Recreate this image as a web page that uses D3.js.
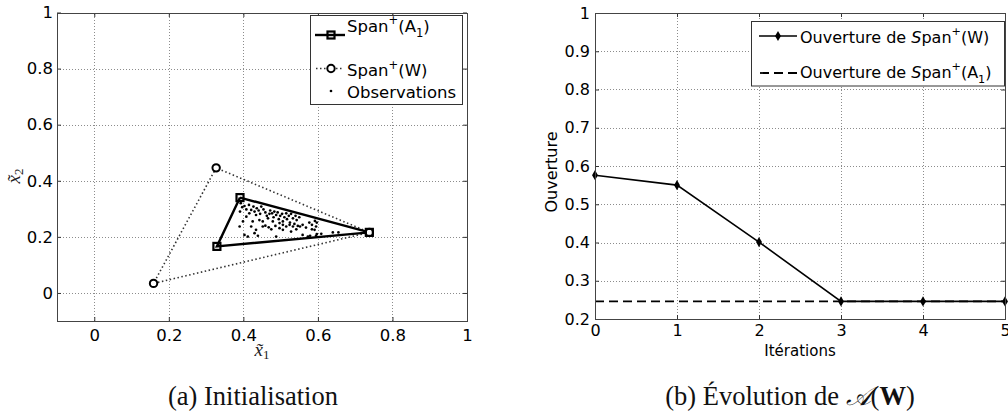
<!DOCTYPE html>
<html>
<head>
<meta charset="utf-8">
<script src="https://cdn.jsdelivr.net/npm/d3@7"></script>
<style>
  html, body { margin: 0; padding: 0; background: #fff; }
  svg { display: block; }
</style>
</head>
<body>
<svg id="fig" width="1008" height="414"></svg>
<script>
// ---------- (a) Initialisation ----------
// vertices of Span+(A1)
const a1X = [0.391, 0.329, 0.738];
const a1Y = [0.340, 0.166, 0.216];
// vertices of the initial Span+(W)
const wX = [0.327, 0.159, 0.738];
const wY = [0.446, 0.034, 0.216];
// observations
const obsX = [
  0.393, 0.397, 0.391, 0.403, 0.408, 0.415, 0.416, 0.421, 0.427, 0.430,
  0.434, 0.436, 0.441, 0.445, 0.448, 0.454, 0.459, 0.463, 0.466, 0.470,
  0.472, 0.477, 0.481, 0.483, 0.488, 0.492, 0.495, 0.499, 0.504, 0.506,
  0.510, 0.515, 0.517, 0.522, 0.525, 0.528, 0.533, 0.537, 0.540, 0.543,
  0.546, 0.550, 0.552, 0.559, 0.568, 0.577, 0.584, 0.591, 0.595, 0.390,
  0.403, 0.412, 0.430, 0.439, 0.452, 0.459, 0.468, 0.475, 0.486, 0.497,
  0.506, 0.515, 0.528, 0.542, 0.559, 0.573, 0.595, 0.609, 0.640, 0.488,
  0.443, 0.452, 0.497, 0.506, 0.524, 0.533, 0.434, 0.425, 0.408, 0.399,
  0.421, 0.479, 0.655, 0.597, 0.579, 0.584, 0.592, 0.597
];
const obsY = [
  0.320, 0.306, 0.290, 0.310, 0.298, 0.314, 0.284, 0.296, 0.308, 0.290,
  0.278, 0.302, 0.294, 0.282, 0.308, 0.298, 0.287, 0.275, 0.266, 0.282,
  0.294, 0.284, 0.270, 0.290, 0.278, 0.287, 0.263, 0.275, 0.282, 0.255,
  0.270, 0.284, 0.263, 0.275, 0.251, 0.282, 0.266, 0.246, 0.275, 0.260,
  0.239, 0.270, 0.237, 0.243, 0.233, 0.251, 0.243, 0.225, 0.237, 0.237,
  0.207, 0.201, 0.213, 0.204, 0.237, 0.240, 0.234, 0.227, 0.239, 0.231,
  0.225, 0.237, 0.219, 0.227, 0.207, 0.201, 0.204, 0.211, 0.216, 0.201,
  0.260, 0.255, 0.249, 0.243, 0.243, 0.237, 0.225, 0.255, 0.272, 0.255,
  0.237, 0.255, 0.216, 0.210, 0.204, 0.227, 0.257, 0.251
];
const leftTicks = [0, 0.2, 0.4, 0.6, 0.8, 1];
const leftTickLabels = ["0", "0.2", "0.4", "0.6", "0.8", "1"];

// ---------- (b) Évolution de A(W) ----------
const iterations = [0, 1, 2, 3, 4, 5];
const openingW = [0.576, 0.550, 0.401, 0.246, 0.246, 0.246];
const openingA1 = 0.246;
const rightXTicks = [0, 1, 2, 3, 4, 5];
const rightXTickLabels = ["0", "1", "2", "3", "4", "5"];
const rightYTicks = [0.2, 0.3, 0.4, 0.5, 0.6, 0.7, 0.8, 0.9, 1];
const rightYTickLabels = ["0.2", "0.3", "0.4", "0.5", "0.6", "0.7", "0.8", "0.9", "1"];

const svg = d3.select("#fig");
const SANS = "'DejaVu Sans', sans-serif";
const SERIF = "'Liberation Serif', 'DejaVu Serif', serif";
const crisp = v => Math.round(v) + 0.5;

// draws grid, inward ticks on four sides and tick labels
function drawFrame(g, x, y, xt, xl, yt, yl, opt) {
  const [x0, x1] = x.range();
  const [y0, y1] = y.range();
  // dotted grid
  g.append("g").selectAll("line").data(xt).join("line")
    .attr("x1", d => crisp(x(d))).attr("x2", d => crisp(x(d)))
    .attr("y1", y0).attr("y2", y1)
    .attr("stroke", "#8c8c8c").attr("stroke-dasharray", "1,2");
  g.append("g").selectAll("line").data(yt).join("line")
    .attr("y1", d => crisp(y(d))).attr("y2", d => crisp(y(d)))
    .attr("x1", x0).attr("x2", x1)
    .attr("stroke", "#8c8c8c").attr("stroke-dasharray", "1,2");

  const style = sel => {
    sel.select(".domain").remove();
    sel.selectAll(".tick line").attr("stroke", "#333");
    sel.selectAll(".tick text")
      .attr("font-family", SANS).attr("font-size", opt.fs).attr("fill", "#000");
  };
  g.append("g").attr("transform", `translate(0,${crisp(y0) - 0.5})`)
    .call(d3.axisBottom(x).tickValues(xt).tickFormat((d, i) => xl[i])
      .tickSizeInner(-4).tickSizeOuter(0).tickPadding(opt.xpad))
    .call(style);
  g.append("g").attr("transform", `translate(0,${crisp(y1) - 0.5})`)
    .call(d3.axisTop(x).tickValues(xt).tickFormat("")
      .tickSizeInner(-4).tickSizeOuter(0))
    .call(style);
  g.append("g").attr("transform", `translate(${crisp(x0) - 0.5},0)`)
    .call(d3.axisLeft(y).tickValues(yt).tickFormat((d, i) => yl[i])
      .tickSizeInner(-4).tickSizeOuter(0).tickPadding(opt.ypad))
    .call(style);
  g.append("g").attr("transform", `translate(${crisp(x1) - 0.5},0)`)
    .call(d3.axisRight(y).tickValues(yt).tickFormat("")
      .tickSizeInner(-4).tickSizeOuter(0))
    .call(style);
}

function drawBox(g, x, y) {
  const [x0, x1] = x.range();
  const [y0, y1] = y.range();
  g.append("rect")
    .attr("x", crisp(x0)).attr("y", crisp(y1))
    .attr("width", Math.round(x1) - Math.round(x0))
    .attr("height", Math.round(y0) - Math.round(y1))
    .attr("fill", "none").attr("stroke", "#444").attr("stroke-width", 1);
}

// =================== panel (a) ===================
const xL = d3.scaleLinear().domain([-0.1, 1]).range([57, 467]);
const yL = d3.scaleLinear().domain([-0.1, 1]).range([321, 12.5]);
const gA = svg.append("g");
drawFrame(gA, xL, yL, leftTicks, leftTickLabels, leftTicks, leftTickLabels,
  { fs: 16.5, xpad: 8, ypad: 4 });

const wPts = wX.map((v, i) => [xL(v), yL(wY[i])]);
const aPts = a1X.map((v, i) => [xL(v), yL(a1Y[i])]);

// Span+(W) : dotted triangle with circles
gA.append("path")
  .attr("d", d3.line()([...wPts, wPts[0]]))
  .attr("fill", "none").attr("stroke", "#333")
  .attr("stroke-width", 1.6).attr("stroke-dasharray", "1.5,2.5");

// observations
gA.append("g").selectAll("circle").data(obsX).join("circle")
  .attr("cx", d => xL(d)).attr("cy", (d, i) => yL(obsY[i]))
  .attr("r", 1.35).attr("fill", "#000");

// Span+(A1) : solid triangle with squares
gA.append("path")
  .attr("d", d3.line()([...aPts, aPts[0]]))
  .attr("fill", "none").attr("stroke", "#000")
  .attr("stroke-width", 2.4).attr("stroke-linejoin", "miter");

gA.append("g").selectAll("circle").data(wPts).join("circle")
  .attr("cx", d => d[0]).attr("cy", d => d[1]).attr("r", 3.7)
  .attr("fill", "#fff").attr("stroke", "#000").attr("stroke-width", 2);
gA.append("g").selectAll("rect").data(aPts).join("rect")
  .attr("x", d => d[0] - 3.5).attr("y", d => d[1] - 3.5)
  .attr("width", 7).attr("height", 7)
  .attr("fill", "none").attr("stroke", "#000").attr("stroke-width", 2.2);

drawBox(gA, xL, yL);

// axis labels  x~1, x~2
const xLab = gA.append("text")
  .attr("x", (xL.range()[0] + xL.range()[1]) / 2).attr("y", 356)
  .attr("text-anchor", "middle").attr("font-family", SERIF)
  .attr("font-size", 19).attr("fill", "#222");
xLab.append("tspan").attr("font-style", "italic").text("x\u0303");
xLab.append("tspan").attr("font-size", 13).attr("dy", 3).text("1");

const yLab = gA.append("text")
  .attr("transform", "translate(20,176) rotate(-90)")
  .attr("text-anchor", "middle").attr("font-family", SERIF)
  .attr("font-size", 19).attr("fill", "#222");
yLab.append("tspan").attr("font-style", "italic").text("x\u0303");
yLab.append("tspan").attr("font-size", 13).attr("dy", 3).text("2");

// legend (a)
const legA = gA.append("g");
legA.append("rect").attr("x", 310.5).attr("y", 15.5).attr("width", 152).attr("height", 89)
  .attr("fill", "#fff").attr("stroke", "#333");
legA.append("line").attr("x1", 315).attr("x2", 345).attr("y1", 35).attr("y2", 35)
  .attr("stroke", "#000").attr("stroke-width", 2.4);
legA.append("rect").attr("x", 327.5).attr("y", 31.5).attr("width", 7).attr("height", 7)
  .attr("fill", "none").attr("stroke", "#000").attr("stroke-width", 2.2);
legA.append("line").attr("x1", 316).attr("x2", 344).attr("y1", 68.5).attr("y2", 68.5)
  .attr("stroke", "#333").attr("stroke-width", 1.6).attr("stroke-dasharray", "1.5,2.5");
legA.append("circle").attr("cx", 331).attr("cy", 68.5).attr("r", 3.7)
  .attr("fill", "#fff").attr("stroke", "#000").attr("stroke-width", 2);
legA.append("circle").attr("cx", 331).attr("cy", 91).attr("r", 1.35).attr("fill", "#000");

function spanLabel(g, x, y, fs, arg, sub, prefix) {
  const t = g.append("text").attr("x", x).attr("y", y)
    .attr("font-family", SANS).attr("font-size", fs).attr("fill", "#000");
  if (prefix) {
    t.append("tspan").text(prefix);
    t.append("tspan").attr("font-style", "italic").text("S");
    t.append("tspan").text("pan");
  } else {
    t.append("tspan").text("Span");
  }
  t.append("tspan").attr("font-size", fs * 0.7).attr("dy", -fs * 0.45).text("+");
  t.append("tspan").attr("dy", fs * 0.45).text("(" + arg);
  if (sub) {
    t.append("tspan").attr("font-size", fs * 0.7).attr("dy", fs * 0.32).text(sub);
    t.append("tspan").attr("dy", -fs * 0.32).text(")");
  } else {
    t.append("tspan").text(")");
  }
  return t;
}
spanLabel(legA, 347, 31.5, 16.5, "A", "1");
spanLabel(legA, 347, 76, 16.5, "W", null);
legA.append("text").attr("x", 347).attr("y", 97.5)
  .attr("font-family", SANS).attr("font-size", 16.5).attr("fill", "#000")
  .text("Observations");

// caption (a)
svg.append("text").attr("x", 253).attr("y", 405).attr("text-anchor", "middle")
  .attr("font-family", SERIF).attr("font-size", 26.5).attr("fill", "#111")
  .text("(a) Initialisation");

// =================== panel (b) ===================
const xR = d3.scaleLinear().domain([0, 5]).range([595, 1005]);
const yR = d3.scaleLinear().domain([0.2, 1]).range([319, 13]);
const gB = svg.append("g");
drawFrame(gB, xR, yR, rightXTicks, rightXTickLabels, rightYTicks, rightYTickLabels,
  { fs: 16, xpad: 6, ypad: 5 });

// opening of Span+(A1): dashed reference level
gB.append("line")
  .attr("x1", xR(0)).attr("x2", xR(5))
  .attr("y1", yR(openingA1)).attr("y2", yR(openingA1))
  .attr("stroke", "#000").attr("stroke-width", 1.8).attr("stroke-dasharray", "9,5");

// opening of Span+(W) over the iterations
gB.append("path")
  .attr("d", d3.line().x((d, i) => xR(iterations[i])).y(d => yR(d))(openingW))
  .attr("fill", "none").attr("stroke", "#000").attr("stroke-width", 1.6);
const diamond = d3.symbol().type(d3.symbolDiamond).size(30);
gB.append("g").selectAll("path").data(openingW).join("path")
  .attr("transform", (d, i) => `translate(${xR(iterations[i])},${yR(d)})`)
  .attr("d", diamond).attr("fill", "#000");

drawBox(gB, xR, yR);

gB.append("text").attr("x", 800).attr("y", 356).attr("text-anchor", "middle")
  .attr("font-family", SANS).attr("font-size", 15).attr("fill", "#000")
  .text("Itérations");
gB.append("text").attr("transform", "translate(557,172) rotate(-90)")
  .attr("text-anchor", "middle")
  .attr("font-family", SANS).attr("font-size", 16).attr("fill", "#000")
  .text("Ouverture");

// legend (b)
const legB = gB.append("g");
legB.append("rect").attr("x", 751.5).attr("y", 21.5).attr("width", 253).attr("height", 64.5)
  .attr("fill", "#fff").attr("stroke", "#333");
legB.append("line").attr("x1", 759).attr("x2", 797).attr("y1", 36).attr("y2", 36)
  .attr("stroke", "#000").attr("stroke-width", 1.6);
legB.append("path").attr("transform", "translate(778,36)").attr("d", diamond).attr("fill", "#000");
legB.append("line").attr("x1", 760).attr("x2", 797).attr("y1", 73).attr("y2", 73)
  .attr("stroke", "#000").attr("stroke-width", 1.8).attr("stroke-dasharray", "9,5");
spanLabel(legB, 800, 42.5, 16, "W", null, "Ouverture de ");
spanLabel(legB, 800, 77.5, 16, "A", "1", "Ouverture de ");

// caption (b)
const capB = svg.append("text").attr("x", 790).attr("y", 405).attr("text-anchor", "middle")
  .attr("font-family", SERIF).attr("font-size", 26.5).attr("fill", "#111");
capB.append("tspan").text("(b) Évolution de ");
capB.append("tspan").attr("font-style", "italic").text("𝒜");
capB.append("tspan").text("(");
capB.append("tspan").attr("font-weight", "bold").text("W");
capB.append("tspan").text(")");
</script>
</body>
</html>
